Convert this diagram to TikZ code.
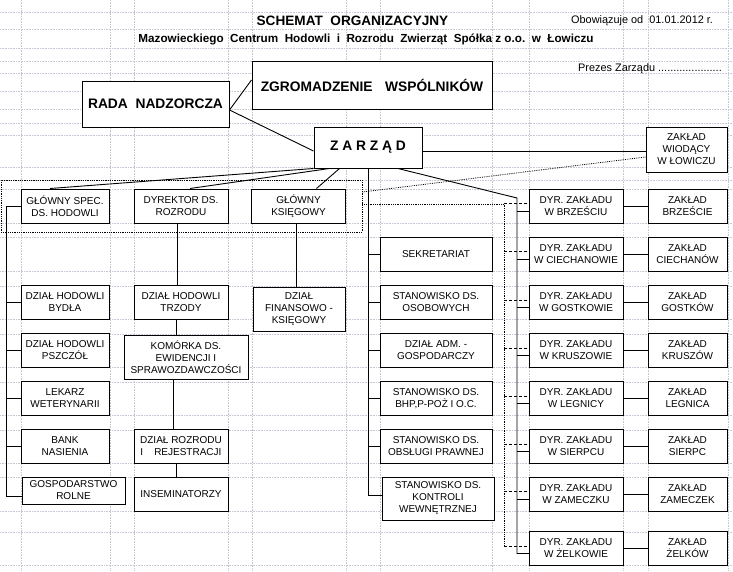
\documentclass[tikz,border=0pt]{standalone}
\usepackage{fontspec}
\setmainfont{Liberation Sans}
\usepackage{tikz}
\usetikzlibrary{positioning,calc,fit}
\definecolor{gridgray}{RGB}{196,198,212}

\begin{document}
\begin{tikzpicture}[
        x=1pt, y=-1pt,
        % Define styles for the sheet and the boxes
        gridline/.style={draw=gridgray, densely dotted, line width=0.6pt},
        unit/.style={draw, line width=1pt, fill=white, align=center, inner sep=1pt, font=\fontsize{10}{12}\selectfont},
        leftunit/.style={unit, minimum width=88pt, minimum height=34pt},
        midunit/.style={unit, minimum width=94pt, minimum height=34pt},
        deskunit/.style={unit, minimum width=112pt, minimum height=34pt},
        plantunit/.style={unit, minimum width=79pt, minimum height=34pt},
        board/.style={draw, line width=1pt, fill=white, align=center, inner sep=1pt, font=\bfseries\fontsize{13.8}{16}\selectfont},
        groupbox/.style={draw, densely dotted, line width=0.8pt, inner sep=0pt},
        note/.style={anchor=west, inner sep=0pt, font=\fontsize{10.9}{13}\selectfont},
        link/.style={line width=0.9pt},
        dotlink/.style={line width=0.8pt, densely dotted},
        dashlink/.style={line width=0.8pt, dash pattern=on 3pt off 2pt}
      ]

      % Sheet background and grid
      \fill[white] (0,0) rectangle (733,571);
      \useasboundingbox (0,0) rectangle (733,571);
      \foreach \gx in {21,110,134,228,252,346,380,492,529,623,648,728}
        \draw[gridline] (\gx,0) -- (\gx,571);
      \foreach \gy in {12,29,48,61,73,91,109,123,135,167,180,189,223,237,271,286,319,334,367,382,415,430,463,477,511,532,565}
        \draw[gridline] (0,\gy) -- (733,\gy);

      % Header texts
      \node[font=\bfseries\fontsize{13.6}{16}\selectfont] (title) at (352.5,21) {SCHEMAT\ \ ORGANIZACYJNY};
      \node[font=\bfseries\fontsize{11.7}{14}\selectfont] (subtitle) at (366,39) {Mazowieckiego\ \ Centrum\ \ Hodowli\ \ i\ \ Rozrodu\ \ Zwierząt\ \ Spółka z o.o.\ \ w\ \ Łowiczu};
      \node[note] (valid) at (571,21) {Obowiązuje od\ \ 01.01.2012 r.};
      \node[note] (prezes) at (578,69) {Prezes Zarządu .....................};

      % Governing bodies
      \node[board, minimum width=147pt, minimum height=46pt] (rada) at (155.5,104) {RADA\ \ NADZORCZA};
      \node[board, minimum width=240pt, minimum height=48pt] (zgrom) at (372,85) {ZGROMADZENIE\hspace{0.9em}WSPÓLNIKÓW};
      \node[board, minimum width=108pt, minimum height=41pt] (zarzad) at (368,147.5) {Z A R Z Ą D};
      \node[unit, minimum width=81pt, minimum height=45pt] (wiod) at (686.5,149.5) {ZAKŁAD\\WIODĄCY\\W ŁOWICZU};

      % Dotted group of the three chief posts
      \node[groupbox, fit={(1,180) (362,232)}] (topgroup) {};

      % Chief posts
      \node[leftunit] (spec) at (65,206) {GŁÓWNY SPEC.\\DS. HODOWLI};
      \node[midunit] (dyrektor) at (181,206) {DYREKTOR DS.\\ROZRODU};
      \node[midunit] (ksieg) at (298.5,206) {GŁÓWNY\\KSIĘGOWY};

      % Breeding and finance departments
      \node[leftunit] (bydla) at (65,302.5) {DZIAŁ HODOWLI\\BYDŁA};
      \node[leftunit] (pszczol) at (65,350.5) {DZIAŁ HODOWLI\\PSZCZÓŁ};
      \node[leftunit] (lekarz) at (65,398.5) {LEKARZ\\WETERYNARII};
      \node[leftunit] (bank) at (65,446.5) {BANK\\NASIENIA};
      \node[leftunit, minimum width=103pt, minimum height=27pt] (gosp) at (73.5,490.5) {GOSPODARSTWO\\ROLNE};
      \node[midunit] (trzody) at (181,302.5) {DZIAŁ HODOWLI\\TRZODY};
      \node[midunit, minimum width=124pt, minimum height=44pt] (komorka) at (186,357) {KOMÓRKA DS.\\EWIDENCJI I\\SPRAWOZDAWCZOŚCI};
      \node[midunit] (rozrod) at (181,446.5) {DZIAŁ ROZRODU\\I\hspace{1.1em}REJESTRACJI};
      \node[midunit] (insem) at (181,494) {INSEMINATORZY};
      \node[midunit, minimum width=92pt, minimum height=44pt] (finans) at (299,309) {DZIAŁ\\FINANSOWO -\\KSIĘGOWY};

      % Posts under the board
      \node[deskunit] (sekret) at (436,254) {SEKRETARIAT};
      \node[deskunit] (osob) at (436,302.5) {STANOWISKO DS.\\OSOBOWYCH};
      \node[deskunit] (adm) at (436,350.5) {DZIAŁ ADM. -\\GOSPODARCZY};
      \node[deskunit] (bhp) at (436,398.5) {STANOWISKO DS.\\BHP,P-POŻ I O.C.};
      \node[deskunit] (prawna) at (436,446.5) {STANOWISKO DS.\\OBSŁUGI PRAWNEJ};
      \node[deskunit, minimum height=43pt] (kontrola) at (438,498.5) {STANOWISKO DS.\\KONTROLI\\WEWNĘTRZNEJ};

      % Links of the supervisory bodies
      \draw[link] ($(rada.east)+(0,6)$) -- ($(zgrom.west)+(0,-5)$);
      \draw[link] ($(rada.east)+(0,6)$) -- ($(zarzad.west)+(0,3.5)$);
      \draw[link] ($(zarzad.east)+(0,3.5)$) -- ($(wiod.west)+(0,1.5)$);

      % Board to the chief posts
      \draw[link] (zarzad.south west) -- ($(spec.north)+(-15,0)$);
      \draw[link] ($(zarzad.south west)+(16,0)$) -- ($(dyrektor.north)+(9,0)$);
      \draw[link] ($(zarzad.south west)+(26,0)$) -- ($(ksieg.north)+(18,0)$);

      % Chief breeding specialist and his units
      \draw[link] (spec.west) -- ++(-14,0) |- ($(gosp.west)+(0,5.5)$);
      \foreach \b in {bydla,pszczol,lekarz,bank}
        \draw[link] (\b.west) -- ++(-14,0);

      % Breeding director chain and finance
      \foreach \a/\b/\sa/\sb in {dyrektor/trzody/-4/-4, trzody/komorka/-5/-10, komorka/rozrod/-13/-8, rozrod/insem/-5/-5}
        \draw[link] ([xshift=\sa]\a.south) -- ([xshift=\sb]\b.north);
      \draw[link] ([xshift=-2.5]ksieg.south) -- ([xshift=-3]finans.north);

      % Board to its own posts
      \draw[link] (zarzad.south) |- ($(kontrola.west)+(0,-3.5)$);
      \foreach \s in {sekret,osob,adm,bhp,prawna}
        \draw[link] (zarzad.south |- \s.west) -- (\s.west);

      % Plants and their directors
      \coordinate (dyrtop) at (517,198);
      \coordinate (dotx) at (504,204);
      \foreach \n/\y/\dyr/\zak in {brzesc/206/W BRZEŚCIU/BRZEŚCIE, ciech/254/W CIECHANOWIE/CIECHANÓW, gostk/302.5/W GOSTKOWIE/GOSTKÓW, krusz/350.5/W KRUSZOWIE/KRUSZÓW, legn/398.5/W LEGNICY/LEGNICA, sierp/446.5/W SIERPCU/SIERPC, zam/494/W ZAMECZKU/ZAMECZEK, zelk/548.5/W ŻELKOWIE/ŻELKÓW} {
        \node[midunit] (dyr\n) at (576,\y) {DYR. ZAKŁADU\\\dyr};
        \node[plantunit] (zak\n) at (687.5,\y) {ZAKŁAD\\\zak};
        \draw[link] (dyr\n) -- (zak\n);
        \draw[link] ($(dyrtop |- dyr\n.west)+(0,5)$) -- ($(dyr\n.west)+(0,5)$);
        \draw[dashlink] ($(dotx |- dyr\n.west)+(0,-2.5)$) -- ($(dyr\n.west)+(0,-2.5)$);
      }
      \draw[link] ($(zarzad.south)+(30,0)$) -- (dyrtop) |- ($(dyrzelk.west)+(0,5)$);

      % Dotted line of the leading plant
      \draw[dotlink] ($(wiod.west)+(0,7.5)$) -- ($(topgroup.east)+(0,-14)$);
      \draw[dotlink] ($(topgroup.east)+(0,-2)$) -| ($(dotx |- dyrzelk.west)+(0,-2.5)$);

    \end{tikzpicture}
\end{document}
